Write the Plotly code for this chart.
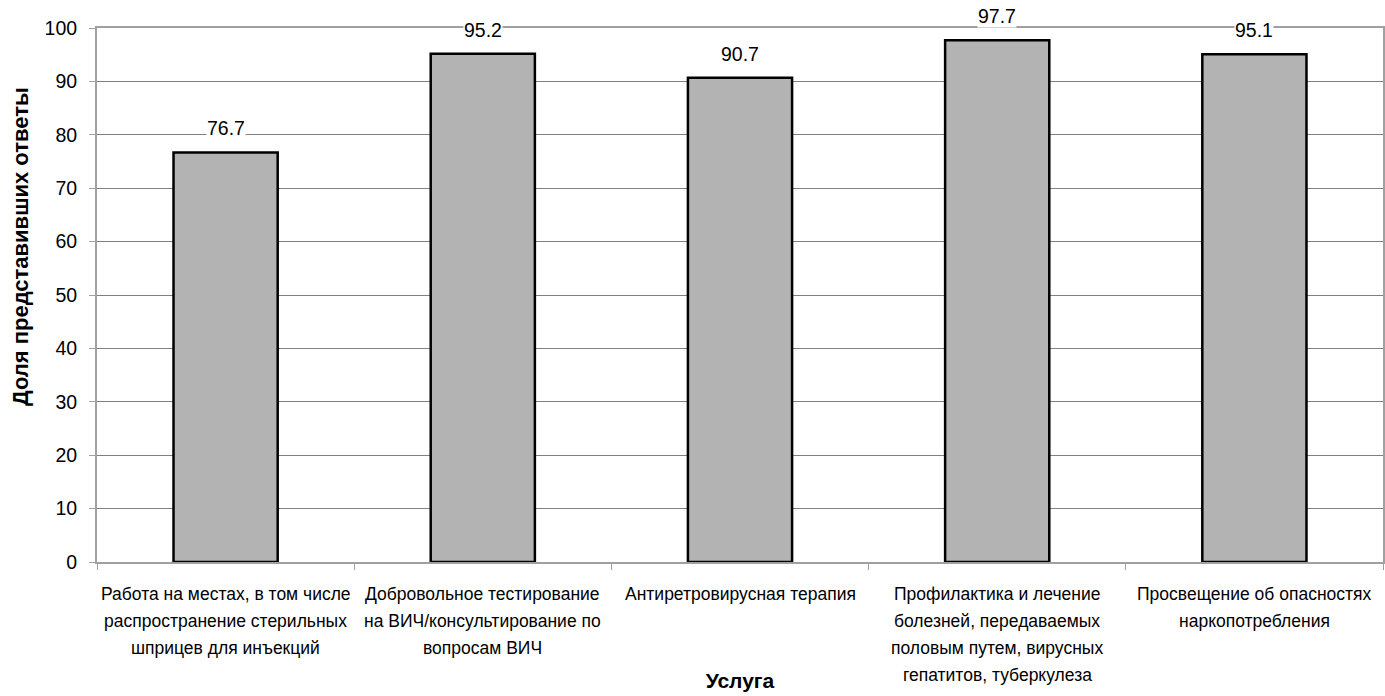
import plotly.graph_objects as go

# Services (one entry per bar, label lines split by <br>) and the share of respondents (%)
categories = [
    "Работа на местах, в том числе<br>распространение стерильных<br>шприцев для инъекций",
    "Добровольное тестирование<br>на ВИЧ/консультирование по<br>вопросам ВИЧ",
    "Антиретровирусная терапия",
    "Профилактика и лечение<br>болезней, передаваемых<br>половым путем, вирусных<br>гепатитов, туберкулеза",
    "Просвещение об опасностях<br>наркопотребления",
]
values = [76.7, 95.2, 90.7, 97.7, 95.1]
y_ticks = [0, 10, 20, 30, 40, 50, 60, 70, 80, 90, 100]

FONT = "Liberation Sans, Arial, sans-serif"

fig = go.Figure(
    go.Bar(
        x=categories,
        y=values,
        marker=dict(color="#b3b3b3", line=dict(color="#000000", width=2.5)),
        hoverinfo="y",
    )
)

# Value labels above the bars, with a white box that interrupts the gridlines
for cat, val in zip(categories, values):
    fig.add_annotation(
        x=cat, y=val, text=f"{val:.1f}",
        showarrow=False, yanchor="middle", yshift=24,
        bgcolor="white", borderpad=0,
        font=dict(family=FONT, size=19.5, color="#000000"),
    )

# Category labels under the axis, one line at a time for a looser line spacing
LINE_STEP = 27
for cat in categories:
    for i, line in enumerate(cat.split("<br>")):
        fig.add_annotation(
            x=cat, y=0, text=line,
            showarrow=False, xanchor="center", yanchor="middle",
            yshift=-(32 + LINE_STEP * i),
            font=dict(family=FONT, size=17.5, color="#000000"),
        )

# Vertical axis title
fig.add_annotation(
    text="<b>Доля представивших ответы</b>",
    xref="paper", yref="paper", x=-0.059, y=0.59,
    xanchor="center", yanchor="middle", textangle=-90,
    showarrow=False, font=dict(family=FONT, size=22, color="#000000"),
)

fig.update_layout(
    width=1385, height=696,
    margin=dict(l=97, r=2, t=28, b=134, autoexpand=False),
    paper_bgcolor="white", plot_bgcolor="white",
    bargap=0.595,
    showlegend=False,
    font=dict(family=FONT, size=18, color="#000000"),
)

fig.update_xaxes(
    tickson="boundaries",
    showticklabels=False,
    automargin=False,
    ticks="outside", ticklen=6, tickcolor="#a0a0a0", tickwidth=1,
    showline=True, linecolor="#a0a0a0", linewidth=2, mirror=True,
    showgrid=False,
    title=dict(text="<b>Услуга</b>", font=dict(family=FONT, size=21), standoff=110),
)

fig.update_yaxes(
    range=[0, 100],
    tickvals=y_ticks,
    automargin=False,
    ticks="outside", ticklen=6, tickcolor="#a0a0a0", tickwidth=1,
    showline=True, linecolor="#a0a0a0", linewidth=2, mirror=True,
    showgrid=True, gridcolor="#808080", gridwidth=1,
    zeroline=False,
    tickfont=dict(family=FONT, size=19.5),
    ticklabelstandoff=8,
)

fig.write_html("out.html")
